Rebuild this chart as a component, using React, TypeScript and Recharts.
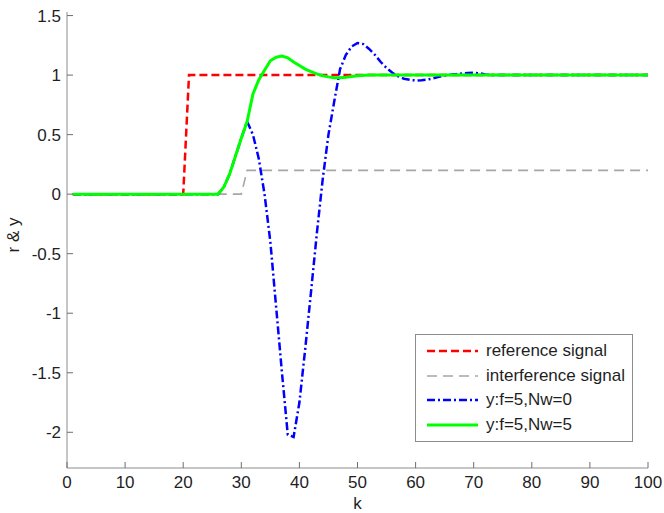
import React from "react";
import { LineChart, Line, XAxis, YAxis, Legend } from "recharts";

// step signals: only the corners are needed
const refK = [1, 20, 21, 100];
const refY = [0, 0, 1, 1];

const intK = [1, 30, 31, 100];
const intY = [0, 0, 0.2, 0.2];

// y:f=5,Nw=0
const nw0K = [
  1, 26, 27, 28, 29, 30, 31, 32, 33, 34, 35, 36, 37, 38, 39, 40, 41, 42, 43, 44,
  45, 46, 47, 48, 49, 50, 51, 52, 53, 54, 55, 56, 57, 58, 59, 60, 61, 62, 63, 64,
  65, 66, 67, 68, 69, 70, 71, 72, 73, 100,
];
const nw0Y = [
  0, 0, 0.06, 0.17, 0.32, 0.47, 0.61, 0.5, 0.3, 0.0, -0.4, -0.95, -1.5, -2.02,
  -2.04, -1.75, -1.3, -0.82, -0.33, 0.12, 0.5, 0.78, 1.05, 1.17, 1.24, 1.27, 1.26,
  1.22, 1.17, 1.11, 1.06, 1.02, 0.99, 0.97, 0.96, 0.955, 0.957, 0.963, 0.972, 0.985,
  0.997, 1.003, 1.008, 1.013, 1.018, 1.02, 1.015, 1.005, 1.0, 1.0,
];

// y:f=5,Nw=5
const nw5K = [
  1, 26, 27, 28, 29, 30, 31, 32, 33, 34, 35, 36, 37, 38, 39, 40, 41, 42, 43, 44,
  45, 46, 47, 48, 49, 50, 52, 100,
];
const nw5Y = [
  0, 0, 0.06, 0.17, 0.32, 0.47, 0.61, 0.84, 0.96, 1.04, 1.12, 1.15, 1.16, 1.145,
  1.11, 1.08, 1.05, 1.03, 1.01, 0.995, 0.985, 0.978, 0.978, 0.982, 0.988, 0.994,
  1.0, 1.0,
];

const xTicks = [0, 10, 20, 30, 40, 50, 60, 70, 80, 90, 100];
const yTicks = [-2, -1.5, -1, -0.5, 0, 0.5, 1, 1.5];

const toPoints = (ks: number[], vs: number[]) => ks.map((k, i) => ({ k, v: vs[i] }));

const series = [
  { name: "reference signal", data: toPoints(refK, refY), color: "#ff0000", width: 2.5, dash: "8 4" },
  { name: "interference signal", data: toPoints(intK, intY), color: "#a6a6a6", width: 1.6, dash: "10 6" },
  { name: "y:f=5,Nw=0", data: toPoints(nw0K, nw0Y), color: "#0000ff", width: 2.5, dash: "8 3 2 3" },
  { name: "y:f=5,Nw=5", data: toPoints(nw5K, nw5Y), color: "#00ff00", width: 3, dash: undefined },
];

const FONT = "'Liberation Sans', Arial, sans-serif";
const FS = 17;
const TEXT = "#1f1f1f";
const AXIS = "#8c8c8c";
const TICK = "#6e6e6e";

const BottomTick = (props: any) => {
  const { x, y, payload } = props;
  return (
    <g>
      <line x1={x} x2={x} y1={y - 8} y2={y - 14} stroke={TICK} />
      <text x={x} y={y} dy="0.71em" textAnchor="middle" fontSize={FS} fontFamily={FONT} fill={TEXT}>
        {payload.value}
      </text>
    </g>
  );
};

const TopTick = (props: any) => {
  const { x, y } = props;
  return <line x1={x} x2={x} y1={y} y2={y + 6} stroke={TICK} />;
};

const LeftTick = (props: any) => {
  const { x, y, payload } = props;
  return (
    <g>
      <line x1={x + 6} x2={x + 12} y1={y} y2={y} stroke={TICK} />
      <text x={x} y={y} dy="0.355em" textAnchor="end" fontSize={FS} fontFamily={FONT} fill={TEXT}>
        {payload.value}
      </text>
    </g>
  );
};

const RightTick = (props: any) => {
  const { x, y } = props;
  return <line x1={x} x2={x - 6} y1={y} y2={y} stroke={TICK} />;
};

const LegendBox = () => (
  <div
    style={{
      border: `1px solid ${AXIS}`,
      background: "#fff",
      width: 216,
      height: 102,
      boxSizing: "content-box",
      paddingTop: 4,
      fontFamily: FONT,
      fontSize: FS,
      color: TEXT,
    }}
  >
    {series.map((s) => (
      <div key={s.name} style={{ display: "flex", alignItems: "center", height: 24.5 }}>
        <svg width={70} height={10} style={{ flex: "none" }}>
          <line
            x1={11}
            x2={62}
            y1={5}
            y2={5}
            stroke={s.color}
            strokeWidth={s.width}
            strokeDasharray={s.dash}
          />
        </svg>
        <span style={{ whiteSpace: "nowrap" }}>{s.name}</span>
      </div>
    ))}
  </div>
);

export default function App() {
  return (
    <div style={{ position: "absolute", left: 0, top: 0, background: "#fff" }}>
      <LineChart width={664} height={513} margin={{ top: 12, right: 16, bottom: 0, left: 0 }}>
        <XAxis
          dataKey="k"
          type="number"
          domain={[0, 100]}
          ticks={xTicks}
          interval={0}
          height={45}
          stroke={AXIS}
          tickLine={false}
          tickSize={0}
          tickMargin={8}
          tick={<BottomTick />}
          label={{ value: "k", position: "insideBottom", offset: 4, fontSize: FS, fontFamily: FONT, fill: TEXT }}
        />
        <XAxis
          xAxisId="top"
          dataKey="k"
          orientation="top"
          type="number"
          domain={[0, 100]}
          ticks={xTicks}
          interval={0}
          height={0}
          stroke={AXIS}
          tickLine={false}
          tickSize={0}
          tickMargin={0}
          tick={<TopTick />}
          allowDataOverflow
        />
        <YAxis
          type="number"
          domain={[-2.3, 1.53]}
          ticks={yTicks}
          interval={0}
          width={67}
          stroke={AXIS}
          tickLine={false}
          tickSize={0}
          tickMargin={6}
          tick={<LeftTick />}
          allowDataOverflow
          label={() => (
            <text
              x={13}
              y={235}
              transform="rotate(-90 13 235)"
              textAnchor="middle"
              dominantBaseline="central"
              fontSize={FS}
              fontFamily={FONT}
              fill={TEXT}
            >
              r &amp; y
            </text>
          )}
        />
        <YAxis
          yAxisId="right"
          orientation="right"
          type="number"
          domain={[-2.3, 1.53]}
          ticks={yTicks}
          interval={0}
          width={0}
          stroke={AXIS}
          tickLine={false}
          tickSize={0}
          tickMargin={0}
          tick={<RightTick />}
          allowDataOverflow
        />
        {series.map((s) => (
          <Line
            key={s.name}
            data={s.data}
            dataKey="v"
            name={s.name}
            type="linear"
            stroke={s.color}
            strokeWidth={s.width}
            strokeDasharray={s.dash}
            dot={false}
            activeDot={false}
            isAnimationActive={false}
          />
        ))}
        <Legend
          layout="vertical"
          align="center"
          verticalAlign="middle"
          content={<LegendBox />}
          wrapperStyle={{ left: 415, top: 334, width: 218, height: 107 }}
        />
      </LineChart>
    </div>
  );
}
